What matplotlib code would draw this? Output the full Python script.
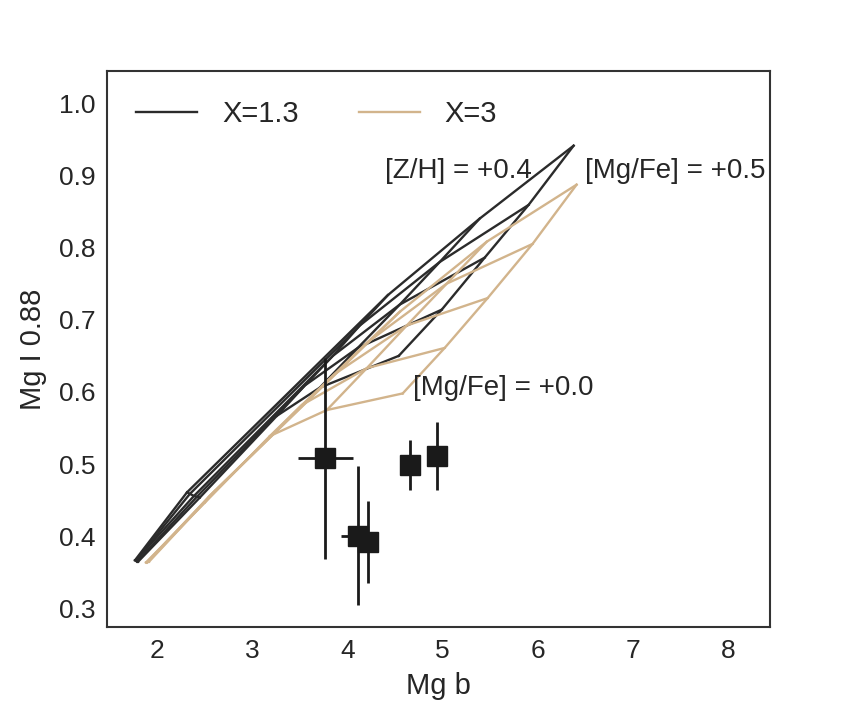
import numpy as np
import matplotlib
matplotlib.use("Agg")
import matplotlib.pyplot as plt

# model grid: rows = [Z/H], columns = [Mg/Fe]
zh_levels = [-1.0, -0.5, 0.0, 0.2, 0.4]
mgfe_levels = [0.0, 0.125, 0.25, 0.375, 0.5]

# X = 1.3 (Salpeter-like)
mgb_x13 = [
    [1.801, 1.790, 1.780, 1.780, 1.769],
    [2.451, 2.420, 2.388, 2.346, 2.315],
    [3.259, 3.553, 3.847, 4.130, 4.424],
    [3.710, 4.109, 4.550, 4.970, 5.389],
    [4.539, 4.991, 5.442, 5.903, 6.376],
]
mgi_x13 = [
    [0.365, 0.365, 0.367, 0.367, 0.367],
    [0.454, 0.455, 0.456, 0.459, 0.461],
    [0.567, 0.609, 0.650, 0.692, 0.734],
    [0.606, 0.661, 0.721, 0.780, 0.840],
    [0.650, 0.714, 0.786, 0.859, 0.941],
]

# X = 3 (bottom-heavy)
mgb_x3 = [
    [1.885, 1.895, 1.895, 1.906, 1.916],
    [2.504, 2.525, 2.546, 2.577, 2.609],
    [3.186, 3.522, 3.868, 4.204, 4.550],
    [3.784, 4.204, 4.623, 5.043, 5.463],
    [4.581, 5.022, 5.473, 5.945, 6.407],
]
mgi_x3 = [
    [0.364, 0.364, 0.364, 0.365, 0.365],
    [0.447, 0.451, 0.455, 0.459, 0.463],
    [0.539, 0.582, 0.625, 0.668, 0.711],
    [0.575, 0.633, 0.692, 0.750, 0.808],
    [0.598, 0.661, 0.730, 0.805, 0.887],
]

# observed galaxies
mgb_obs = [3.77, 4.11, 4.22, 4.66, 4.94]
mgi_obs = [0.508, 0.401, 0.392, 0.499, 0.511]
mgb_err = [0.285, 0.18, 0.08, 0.08, 0.08]
mgi_err = [0.139, 0.096, 0.057, 0.035, 0.047]

plt.rcParams['font.family'] = ['Liberation Sans', 'DejaVu Sans']
plt.rcParams['text.color'] = '.15'
plt.rcParams['axes.labelcolor'] = '.15'
plt.rcParams['xtick.color'] = '.15'
plt.rcParams['ytick.color'] = '.15'


def draw_grid(ax, mgb, mgi, color, label):
    mgb = np.array(mgb)
    mgi = np.array(mgi)
    # lines of constant [Mg/Fe]
    for j in range(mgb.shape[1]):
        ax.plot(mgb[:, j], mgi[:, j], color=color, lw=1.7, zorder=2)
    # lines of constant [Z/H]
    for i in range(mgb.shape[0]):
        ax.plot(mgb[i, :], mgi[i, :], color=color, lw=1.7, zorder=2)
    ax.plot([], [], color=color, lw=1.7, label=label)


fig = plt.figure(figsize=(8.56, 7.13), dpi=100)
ax = fig.add_subplot(111)
fig.subplots_adjust(left=0.125, right=0.9, top=0.9, bottom=0.12)

draw_grid(ax, mgb_x13, mgi_x13, '0.17', 'X=1.3')
draw_grid(ax, mgb_x3, mgi_x3, 'tan', 'X=3')

ax.errorbar(mgb_obs, mgi_obs, xerr=mgb_err, yerr=mgi_err, fmt='s',
            color='0.1', ms=14, lw=2, capsize=0, zorder=4)

ax.text(4.40, 0.906, '[Z/H] = +0.4', fontsize=20, va='center', ha='left')
ax.text(6.50, 0.906, '[Mg/Fe] = +0.5', fontsize=20, va='center', ha='left')
ax.text(4.69, 0.605, '[Mg/Fe] = +0.0', fontsize=20, va='center', ha='left')

ax.set_xlim(1.475, 8.443)
ax.set_ylim(0.274, 1.044)
ax.set_xticks([2, 3, 4, 5, 6, 7, 8])
ax.set_yticks([0.3, 0.4, 0.5, 0.6, 0.7, 0.8, 0.9, 1.0])
ax.set_yticklabels(['0.3', '0.4', '0.5', '0.6', '0.7', '0.8', '0.9', '1.0'])
ax.tick_params(length=0, pad=8, labelsize=19)
ax.set_xlabel('Mg b', fontsize=21, labelpad=7)
ax.set_ylabel('Mg I 0.88', fontsize=21, labelpad=9)
for sp in ax.spines.values():
    sp.set_color('.2')
    sp.set_linewidth(1.5)

ax.legend(loc='upper left', ncol=2, frameon=False, fontsize=21,
          handlelength=2.1, columnspacing=2.05, handletextpad=0.85,
          borderaxespad=0.6)

fig.savefig('out.png', dpi=100)
